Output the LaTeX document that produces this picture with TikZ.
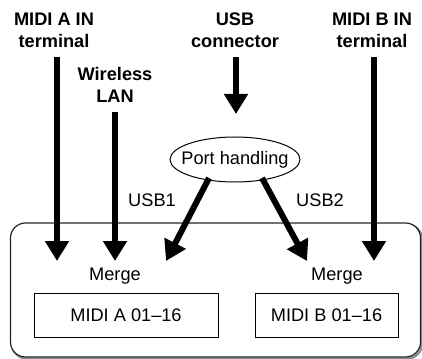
\documentclass[tikz,border=0pt]{standalone}
\usepackage{fontspec}
\setmainfont{Liberation Sans}
\usetikzlibrary{arrows.meta,shapes.geometric}
\begin{document}
\begin{tikzpicture}[x=1pt,y=-1pt,
  lbl/.style={font=\fontsize{18.2}{22}\selectfont\bfseries, align=center, inner sep=0pt},
  txt/.style={font=\fontsize{18.2}{21}\selectfont, inner sep=0pt},
  fat/.style={line width=6pt, -{Triangle[length=20pt,width=23pt]}},
  box/.style={draw, line width=1pt, font=\fontsize{18.2}{21}\selectfont, inner sep=0pt},
  frame/.style={rounded corners=15pt, minimum width=410pt, minimum height=134pt, inner sep=0pt}
]
\useasboundingbox (0,0) rectangle (422,358);
% top labels
\node[lbl] (lblA) at (54,30) {MIDI A IN\\terminal};
\node[lbl] (lblU) at (235,30) {USB\\connector};
\node[lbl] (lblB) at (372,30) {MIDI B IN\\terminal};
\node[lbl] (lblW) at (115,85) {Wireless\\LAN};
% device frame with soft shadow
\node[frame, draw=black!45, line width=2.5pt] (shadow) at (217,291.5) {};
\node[frame, draw=black!85, fill=white, line width=1.2pt] (dev) at (215.5,290) {};
% port handling
\node[draw, ellipse, line width=1pt, minimum width=130pt, minimum height=45pt, inner sep=0pt] (ph) at (235,159.5) {};
\node[txt] (phtxt) at (ph.center) {Port handling};
\node[txt] (usb1) at (152,200) {USB1};
\node[txt] (usb2) at (320,200) {USB2};
\node[txt] (mA) at (115,276) {Merge};
\node[txt] (mB) at (337,276) {Merge};
\node[box, minimum width=184pt, minimum height=44pt] (bA) at (126,315) {MIDI A 01--16};
\node[box, minimum width=143pt, minimum height=44pt] (bB) at (326.5,315) {MIDI B 01--16};
% coordinates
\coordinate (sA) at (57,57);   \coordinate (tA) at (57,261);
\coordinate (sW) at (115,112); \coordinate (tW) at (115,261);
\coordinate (sU) at (236,57);  \coordinate (tU) at (236,114);
\coordinate (sB) at (374,57);  \coordinate (tB) at (374,261);
\coordinate (s1) at (209,178); \coordinate (t1) at (166,261);
\coordinate (s2) at (262,178); \coordinate (t2) at (307,261);
% arrows
\draw[fat] (sA) -- (tA);
\draw[fat] (sW) -- (tW);
\draw[fat] (sU) -- (tU);
\draw[fat] (sB) -- (tB);
\draw[fat] (s1) -- (t1);
\draw[fat] (s2) -- (t2);
\end{tikzpicture}
\end{document}
